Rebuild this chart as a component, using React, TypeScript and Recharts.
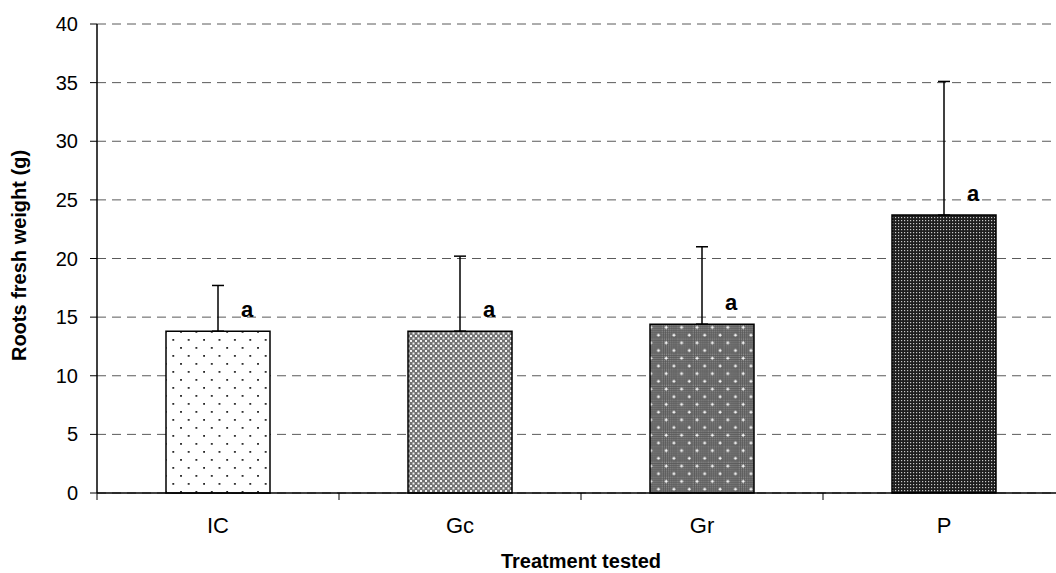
import { BarChart, Bar, XAxis, YAxis, CartesianGrid, ErrorBar, Cell, LabelList } from "recharts"

const treatments = ["IC", "Gc", "Gr", "P"]
const meanWeight = [13.8, 13.8, 14.4, 23.7]
const errUp = [3.9, 6.4, 6.6, 11.4]
const letters = ["a", "a", "a", "a"]
const yTicks = [0, 5, 10, 15, 20, 25, 30, 35, 40]

const patternIds = ["patIC", "patGc", "patGr", "patP"]

const font = "'Liberation Sans', Arial, sans-serif"

const chartData = treatments.map((name, i) => ({
  name,
  value: meanWeight[i],
  err: [0, errUp[i]],
  letter: letters[i],
}))

function XTick(props: any) {
  const { x, y, payload } = props
  const off = payload && payload.offset ? payload.offset : 121
  return (
    <g>
      <line x1={x - off} y1={y} x2={x - off} y2={y + 7} stroke="#000" strokeWidth={1} />
      <text x={x} y={y + 40} textAnchor="middle" fontSize={22} fontFamily={font} fill="#000">
        {payload.value}
      </text>
    </g>
  )
}

function YTitle({ viewBox }: any) {
  const cx = viewBox.x + 19
  const cy = viewBox.y + viewBox.height / 2 - 3
  return (
    <text
      x={cx}
      y={cy}
      transform={`rotate(-90 ${cx} ${cy})`}
      textAnchor="middle"
      dominantBaseline="central"
      fontSize={20}
      fontWeight="bold"
      fontFamily={font}
      fill="#000"
    >
      Roots fresh weight (g)
    </text>
  )
}

function XTitle({ viewBox }: any) {
  return (
    <text
      x={viewBox.x + viewBox.width / 2}
      y={viewBox.y + viewBox.height - 5}
      textAnchor="middle"
      fontSize={20}
      fontWeight="bold"
      fontFamily={font}
      fill="#000"
    >
      Treatment tested
    </text>
  )
}

function LetterLabel(props: any) {
  const { x, y, width, value } = props
  return (
    <text
      x={x + width * 0.78}
      y={y - 14}
      textAnchor="middle"
      fontSize={22}
      fontWeight="bold"
      fontFamily={font}
      fill="#000"
      stroke="none"
    >
      {value}
    </text>
  )
}

export default function App() {
  return (
    <div style={{ position: "fixed", left: 0, top: 0, width: 1056, height: 573, overflow: "hidden", background: "#fff" }}>
      <BarChart
        width={1070}
        height={573}
        data={chartData}
        margin={{ top: 24, right: 5, left: 0, bottom: 0 }}
        barSize={104}
      >
        <defs>
          <pattern id="patIC" width={15.4} height={16} patternUnits="userSpaceOnUse">
            <rect width={15.4} height={16} fill="#fff" />
            <rect x={3} y={3} width={1.8} height={1.8} fill="#222" />
            <rect x={10.7} y={11} width={1.8} height={1.8} fill="#222" />
          </pattern>
          <pattern id="patGc" width={5} height={5} patternUnits="userSpaceOnUse">
            <rect width={5} height={5} fill="#707070" />
            <rect x={0} y={0} width={2} height={2} fill="#f4f4f4" />
            <rect x={2.5} y={2.5} width={2} height={2} fill="#f4f4f4" />
          </pattern>
          <pattern id="fineGr" width={2} height={2} patternUnits="userSpaceOnUse">
            <rect width={2} height={2} fill="#555" />
            <rect width={1} height={1} fill="#9a9a9a" />
          </pattern>
          <pattern id="patGr" width={15.4} height={15.4} patternUnits="userSpaceOnUse">
            <rect x={0} y={0} width={15.4} height={15.4} fill="url(#fineGr)" />
            <rect x={2.5} y={3.5} width={3} height={1.2} fill="#fff" />
            <rect x={3.4} y={2.5} width={1.2} height={3} fill="#fff" />
            <rect x={10.2} y={11.2} width={3} height={1.2} fill="#fff" />
            <rect x={11.1} y={10.2} width={1.2} height={3} fill="#fff" />
          </pattern>
          <pattern id="patP" width={3} height={3} patternUnits="userSpaceOnUse">
            <rect width={3} height={3} fill="#1e1e1e" />
            <rect x={1} y={1} width={1.2} height={1.2} fill="#c8c8c8" />
          </pattern>
        </defs>
        <CartesianGrid vertical={false} stroke="#5a5a5a" strokeDasharray="9 6" />
        <XAxis
          dataKey="name"
          height={80}
          axisLine={{ stroke: "#000", strokeWidth: 1.5 }}
          tickLine={false}
          tickSize={0}
          tickMargin={0}
          tick={<XTick />}
          label={<XTitle />}
        />
        <YAxis
          width={97}
          domain={[0, 40]}
          ticks={yTicks}
          interval={0}
          axisLine={{ stroke: "#000", strokeWidth: 1.5 }}
          tickLine={{ stroke: "#000" }}
          tickSize={7}
          tickMargin={12}
          tick={{ fontSize: 20, fontFamily: font, fill: "#000" }}
          label={<YTitle />}
        />
        <Bar dataKey="value" stroke="#000" strokeWidth={1.5} isAnimationActive={false}>
          {chartData.map((d, i) => (
            <Cell key={d.name} fill={`url(#${patternIds[i]})`} />
          ))}
          <ErrorBar dataKey="err" direction="y" width={6} stroke="#000" strokeWidth={1.5} />
          <LabelList dataKey="letter" content={<LetterLabel />} />
        </Bar>
      </BarChart>
    </div>
  )
}
